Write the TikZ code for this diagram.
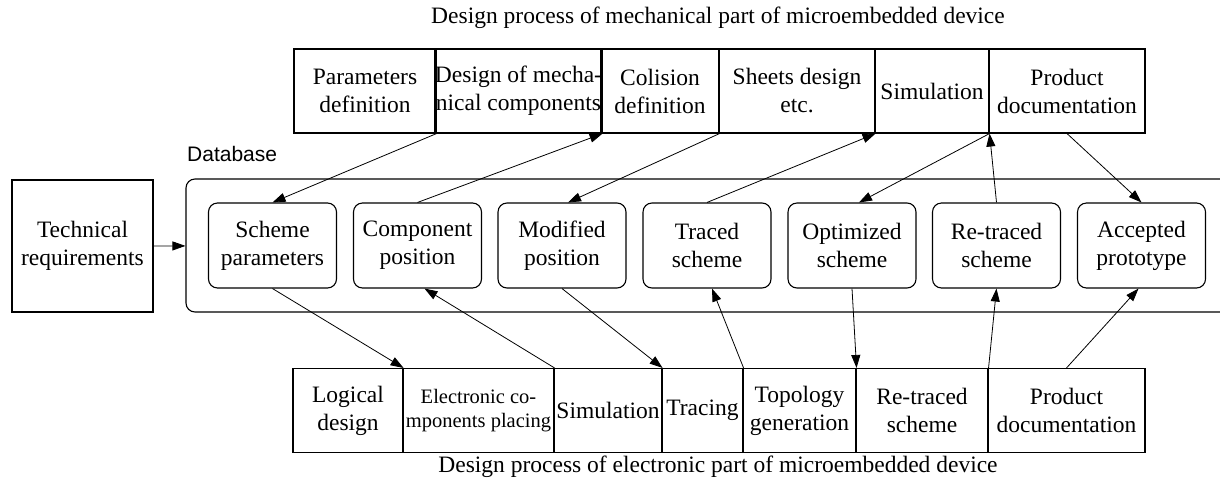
\documentclass[tikz,border=0pt]{standalone}
\usepackage{fontspec}
\setmainfont{Liberation Serif}
\newfontfamily\dbfont{Liberation Sans}
\usetikzlibrary{arrows.meta}

\begin{document}
\begin{tikzpicture}[x=1pt,y=-1pt,
    cell/.style={draw,line width=1.1pt,minimum height=84pt,inner sep=0pt,align=center,font=\fontsize{23.5}{28}\selectfont},
    item/.style={draw,line width=1.1pt,rounded corners=9pt,minimum width=128pt,minimum height=85pt,inner sep=0pt,align=center,font=\fontsize{23.5}{28}\selectfont},
    link/.style={line width=0.8pt,-{Triangle[length=13pt,width=9pt]}}]
    \useasboundingbox (0,0) rectangle (1220,480);

    % mechanical part
    \node[font=\fontsize{23.5}{28}\selectfont] (mtitle) at (718,18) {Design process of mechanical part of microembedded device};
    \node[cell,minimum width=142pt] (m1) at (365,91) {Parameters\\definition};
    \node[cell,minimum width=165pt] (m2) at (518.5,91) {Design of mecha-\\nical components};
    \node[cell,minimum width=118pt] (m3) at (660,91) {Colision\\definition};
    \node[cell,minimum width=156pt] (m4) at (797,91) {Sheets design\\etc.};
    \node[cell,minimum width=114pt] (m5) at (932,91) {Simulation};
    \node[cell,minimum width=156pt] (m6) at (1067,91) {Product\\documentation};

    % database
    \node[draw,line width=1.1pt,rounded corners=9pt,minimum width=1046pt,minimum height=133pt] (db) at (709,245.5) {};
    \node[font=\dbfont\fontsize{21}{26}\selectfont,anchor=base west,inner sep=0pt] (dblabel) at (187,161) {Database};
    \node[cell,minimum width=141pt,minimum height=132pt] (tr) at (82.5,246) {Technical\\requirements};

    \node[item] (s1) at (272.5,245.5) {Scheme\\parameters};
    \node[item] (s2) at (417.5,245.5) {Component\\position};
    \node[item] (s3) at (562,245.5) {Modified\\position};
    \node[item] (s4) at (707,245.5) {Traced\\scheme};
    \node[item] (s5) at (852,245.5) {Optimized\\scheme};
    \node[item] (s6) at (996.5,245.5) {Re-traced\\scheme};
    \node[item] (s7) at (1141.5,245.5) {Accepted\\prototype};

    % electronic part
    \node[cell,minimum width=110pt] (e1) at (348,410.5) {Logical\\design};
    \node[cell,minimum width=151pt,font=\fontsize{20.5}{24}\selectfont] (e2) at (478.5,410.5) {Electronic co-\\mponents placing};
    \node[cell,minimum width=108pt] (e3) at (608,410.5) {Simulation};
    \node[cell,minimum width=81pt] (e4) at (702.5,410.5) {Tracing};
    \node[cell,minimum width=113pt] (e5) at (799.5,410.5) {Topology\\generation};
    \node[cell,minimum width=132pt] (e6) at (922,410.5) {Re-traced\\scheme};
    \node[cell,minimum width=157pt] (e7) at (1066.5,410.5) {Product\\documentation};
    \node[font=\fontsize{23.5}{28}\selectfont] (etitle) at (718,467) {Design process of electronic part of microembedded device};

    \draw[link] (tr) -- (db);

    \draw[link] (m1.south east) -- (s1.north);
    \draw[link] (s2.north) -- (m2.south east);
    \draw[link] (m3.south east) -- ([xshift=6pt]s3.north);
    \draw[link] (s4.north) -- (m4.south east);
    \draw[link] (m5.south east) -- ([xshift=7pt]s5.north);
    \draw[link] (s6.north) -- (m5.south east);
    \draw[link] (m6.south) -- (s7.north);

    \draw[link] (s1.south) -- (e1.north east);
    \draw[link] (e2.north east) -- ([xshift=7pt]s2.south);
    \draw[link] (s3.south) -- (e3.north east);
    \draw[link] (e4.north east) -- ([xshift=5pt]s4.south);
    \draw[link] (s5.south) -- (e5.north east);
    \draw[link] (e6.north east) -- (s6.south);
    \draw[link] (e7.north) -- ([xshift=-3pt]s7.south);
\end{tikzpicture}
\end{document}
